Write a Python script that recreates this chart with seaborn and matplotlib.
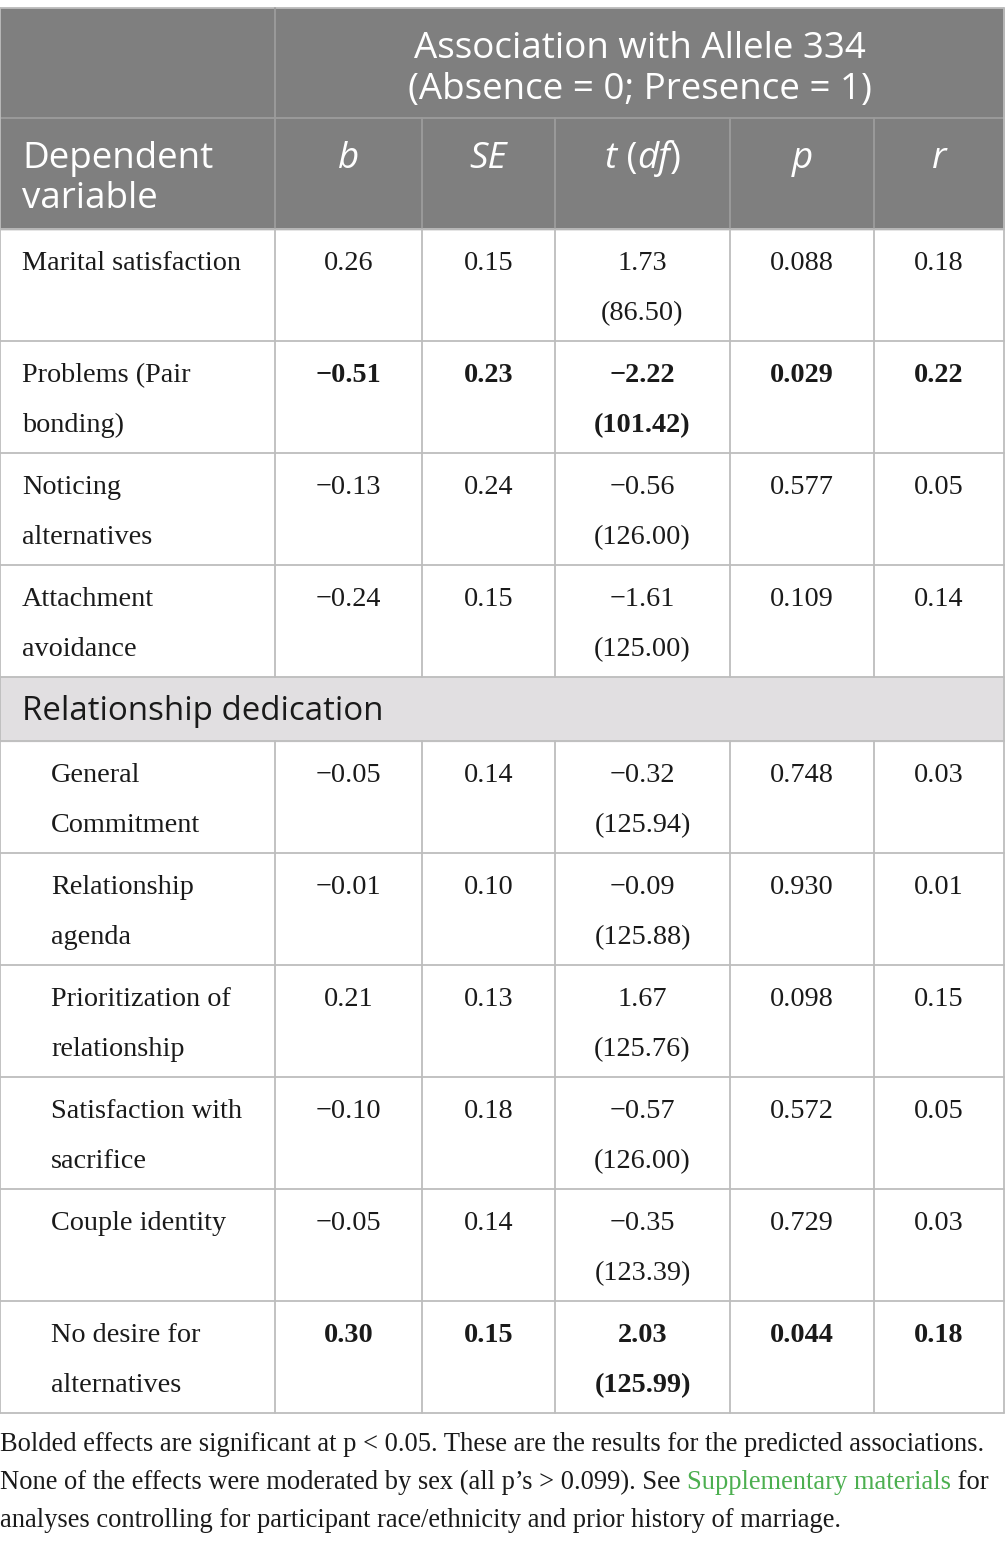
import matplotlib.pyplot as plt
import seaborn as sns

# table content
labels = [
    "Marital satisfaction", "Problems (Pair\nbonding)", "Noticing\nalternatives",
    "Attachment\navoidance", None,
    "General\nCommitment", "Relationship\nagenda", "Prioritization of\nrelationship",
    "Satisfaction with\nsacrifice", "Couple identity", "No desire for\nalternatives",
]
section_label = "Relationship dedication"
indented = [False, False, False, False, None, True, True, True, True, True, True]
b_vals = ["0.26", "\u22120.51", "\u22120.13", "\u22120.24", None,
          "\u22120.05", "\u22120.01", "0.21", "\u22120.10", "\u22120.05", "0.30"]
se_vals = ["0.15", "0.23", "0.24", "0.15", None,
           "0.14", "0.10", "0.13", "0.18", "0.14", "0.15"]
t_vals = ["1.73", "\u22122.22", "\u22120.56", "\u22121.61", None,
          "\u22120.32", "\u22120.09", "1.67", "\u22120.57", "\u22120.35", "2.03"]
df_vals = ["86.50", "101.42", "126.00", "125.00", None,
           "125.94", "125.88", "125.76", "126.00", "123.39", "125.99"]
p_vals = ["0.088", "0.029", "0.577", "0.109", None,
          "0.748", "0.930", "0.098", "0.572", "0.729", "0.044"]
r_vals = ["0.18", "0.22", "0.05", "0.14", None,
          "0.03", "0.01", "0.15", "0.05", "0.03", "0.18"]
bold = [False, True, False, False, None, False, False, False, False, False, True]

header_top = ["Association with Allele 334", "(Absence = 0; Presence = 1)"]
col_heads = ["b", "SE", None, "p", "r"]
footnote = [
    "Bolded effects are significant at p < 0.05. These are the results for the predicted associations.",
    "None of the effects were moderated by sex (all p\u2019s > 0.099). See ",
    "analyses controlling for participant race/ethnicity and prior history of marriage.",
]

sns.set_theme(style="white")
plt.rcParams['font.family'] = ['Liberation Serif', 'DejaVu Serif']

HEAD_BG = "#7f7f7f"
SEC_BG = "#e1dfe1"
LINE = "#bdbdbd"
HLINE = "#9c9c9c"
TXT = "#1a1a1a"
SANS = ["Open Sans", "DejaVu Sans"]
SERIF = ["Liberation Serif", "DejaVu Serif"]
FS_BODY = 20.3
FS_HEAD = 26.5

fig = plt.figure(figsize=(10.05, 15.44), dpi=100)
ax = fig.add_axes([0, 0, 1, 1])
ax.set_xlim(0, 1005)
ax.set_ylim(1544, 0)
ax.axis("off")


def lines(x, y0, text, step, **kw):
    for k, ln in enumerate(text.split("\n")):
        ax.text(x, y0 + k * step, ln, va="baseline", **kw)


cols = [0, 275, 422, 555, 730, 874, 1004]
centers = [(cols[i] + cols[i + 1]) / 2 for i in range(1, 6)]
top = 8
h1, h2 = 118, 229

# header background
ax.add_patch(plt.Rectangle((0, top), 1004, h2 - top, color=HEAD_BG, zorder=0))

# rows
y = h2
row_tops = []
for lab in labels:
    row_tops.append(y)
    y += 64 if lab is None else 112
bottom = y

for i, lab in enumerate(labels):
    yt = row_tops[i]
    if lab is None:
        ax.add_patch(plt.Rectangle((0, yt), 1004, 64, color=SEC_BG, zorder=0))
        ax.text(22, yt + 43, section_label, family=SANS, fontsize=23.8,
                color=TXT, va="baseline")
        continue
    x0 = 51 if indented[i] else 22
    fw = "bold" if bold[i] else "normal"
    lines(x0, yt + 41, lab, 50, family=SERIF, fontsize=FS_BODY, color=TXT)
    vals = [b_vals[i], se_vals[i], t_vals[i] + "\n(" + df_vals[i] + ")",
            p_vals[i], r_vals[i]]
    for cx, v in zip(centers, vals):
        lines(cx, yt + 41, v, 50, family=SERIF, fontsize=FS_BODY, color=TXT,
              ha="center", fontweight=fw)

# grid lines
lw = 1.3
ax.plot([0, 1004], [top, top], color=LINE, lw=lw)
ax.plot([0, 1004], [h1, h1], color=HLINE, lw=lw)
ax.plot([0, 1004], [h2, h2], color=LINE, lw=lw)
for yt in row_tops[1:] + [bottom]:
    ax.plot([0, 1004], [yt, yt], color=LINE, lw=lw)
ax.plot([0, 0], [top, bottom], color=LINE, lw=lw)
ax.plot([1004, 1004], [top, bottom], color=LINE, lw=lw)
ax.plot([275, 275], [top, h2], color=HLINE, lw=lw)
sec = labels.index(None)
for c in cols[1:6]:
    if c != 275:
        ax.plot([c, c], [h1, h2], color=HLINE, lw=lw)
    ax.plot([c, c], [h2, row_tops[sec]], color=LINE, lw=lw)
    ax.plot([c, c], [row_tops[sec] + 64, bottom], color=LINE, lw=lw)

# header text
mid = (275 + 1004) / 2
for k, ln in enumerate(header_top):
    ax.text(mid, 58 + 41 * k, ln, family=SANS, fontsize=FS_HEAD, color="white",
            ha="center", va="baseline")
lines(22, 168, "Dependent\nvariable", 40, family=SANS, fontsize=FS_HEAD,
      color="white")
for cx, hd in zip(centers, col_heads):
    if hd:
        ax.text(cx, 168, hd, family=SANS, fontsize=FS_HEAD, color="white",
                ha="center", va="baseline", style="italic")
# t (df) with upright parentheses
parts = [("t", "italic"), (" (", "normal"), ("df", "italic"), (")", "normal")]
prev = ax.text(centers[2] - 38, 168, parts[0][0], family=SANS, fontsize=FS_HEAD,
               color="white", va="baseline", style="italic")
for txt, st in parts[1:]:
    prev = ax.annotate(txt, xy=(1, 0), xycoords=prev, va="bottom", ha="left",
                       family=SANS, fontsize=FS_HEAD, color="white", style=st)

# footnote
fs = 19.1
ax.text(0, 1451, footnote[0], family=SERIF, fontsize=fs, color=TXT, va="baseline")
a = ax.text(0, 1489, footnote[1], family=SERIF, fontsize=fs, color=TXT, va="baseline")
a = ax.annotate("Supplementary materials", xy=(1, 0), xycoords=a, va="bottom",
                ha="left", family=SERIF, fontsize=fs, color="#4caf50")
ax.annotate(" for", xy=(1, 0), xycoords=a, va="bottom", ha="left",
            family=SERIF, fontsize=fs, color=TXT)
ax.text(0, 1527, footnote[2], family=SERIF, fontsize=fs, color=TXT, va="baseline")

plt.savefig("out.png", dpi=100)
